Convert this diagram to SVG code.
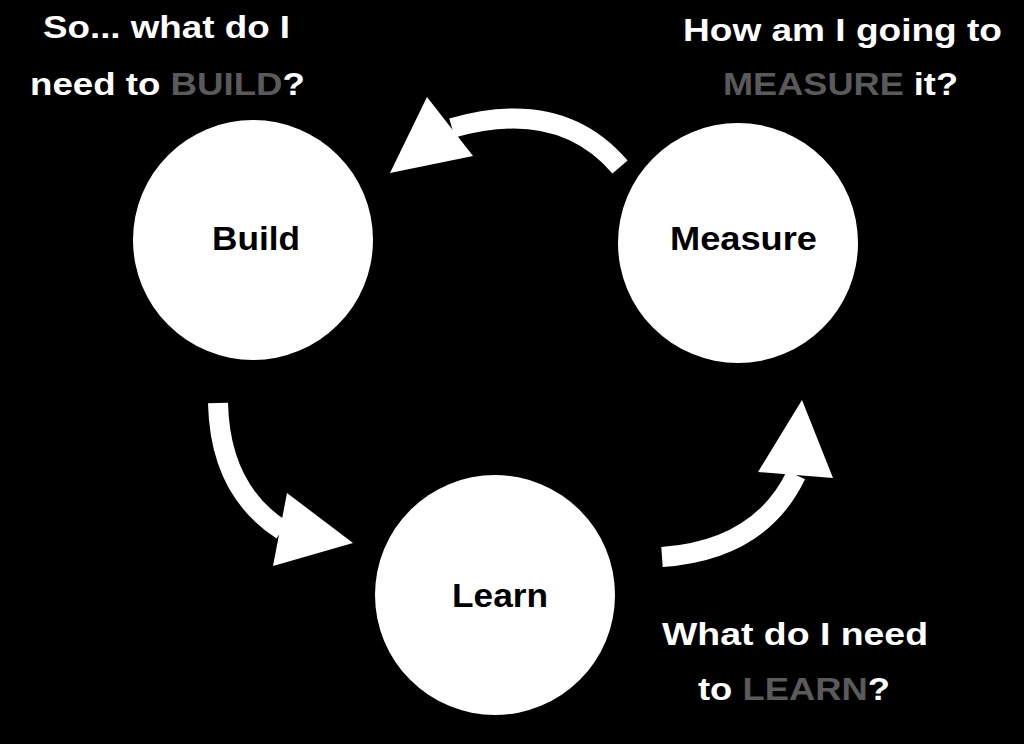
<svg xmlns="http://www.w3.org/2000/svg" width="1024" height="744" viewBox="0 0 1024 744">
<style>
.t{font-family:"Liberation Sans",Arial,sans-serif;font-weight:bold;font-size:32px;fill:#ffffff}
.g{fill:#5a5a5a}
.n{fill:#ffffff}
.lbl{font-family:"Liberation Sans",Arial,sans-serif;font-weight:bold;font-size:34px;fill:#000000}
.band{fill:none;stroke:#ffffff;stroke-width:20}
.head{fill:#ffffff}
</style>
<rect width="1024" height="744" fill="#000000"/>
<g id="build">
<circle class="n" cx="253" cy="240" r="120"/>
<text class="lbl" x="212" y="250" textLength="88" lengthAdjust="spacingAndGlyphs">Build</text>
</g>
<g id="measure">
<circle class="n" cx="738" cy="243" r="120"/>
<text class="lbl" x="670" y="250" textLength="147" lengthAdjust="spacingAndGlyphs">Measure</text>
</g>
<g id="learn">
<circle class="n" cx="495" cy="595" r="120"/>
<text class="lbl" x="452" y="607" textLength="96" lengthAdjust="spacingAndGlyphs">Learn</text>
</g>
<g id="connectors">
<path class="band" d="M620,167 Q560,97 452,128"/>
<polygon class="head" points="390,173 427,97 473,156"/>
<path class="band" d="M218,403 Q220,490 282,530"/>
<polygon class="head" points="353,543 287,493 273,566"/>
<path class="band" d="M662,557 Q760,550 796,475"/>
<polygon class="head" points="802,400 758,472 833,478"/>
</g>
<g id="texts">
<text class="t" x="43" y="38" textLength="247" lengthAdjust="spacingAndGlyphs">So... what do I</text>
<text class="t" x="30" y="95" textLength="275" lengthAdjust="spacingAndGlyphs">need to <tspan class="g">BUILD</tspan>?</text>
<text class="t" x="683" y="41" textLength="319" lengthAdjust="spacingAndGlyphs">How am I going to</text>
<text class="t" x="723" y="95" textLength="235" lengthAdjust="spacingAndGlyphs"><tspan class="g">MEASURE</tspan> it?</text>
<text class="t" x="662" y="645" textLength="266" lengthAdjust="spacingAndGlyphs">What do I need</text>
<text class="t" x="698" y="700" textLength="192" lengthAdjust="spacingAndGlyphs">to <tspan class="g">LEARN</tspan>?</text>
</g>
</svg>
